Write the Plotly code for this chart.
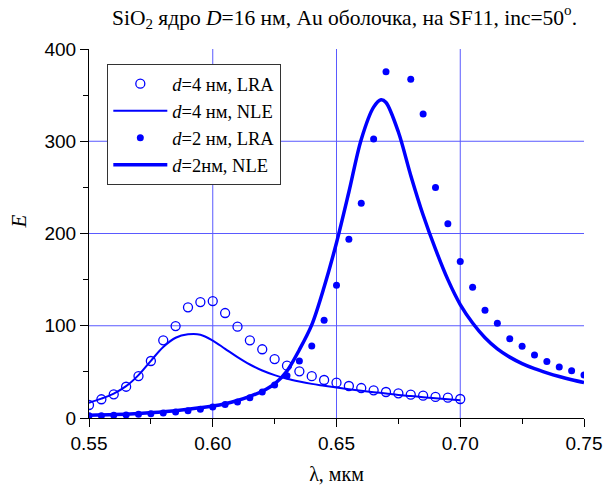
import plotly.graph_objects as go

# --- d=4 nm, LRA (open circles) ---
x_lra4 = [0.550, 0.555, 0.560, 0.565, 0.570, 0.575, 0.580, 0.585, 0.590, 0.595,
          0.600, 0.605, 0.610, 0.615, 0.620, 0.625, 0.630, 0.635, 0.640, 0.645,
          0.650, 0.655, 0.660, 0.665, 0.670, 0.675, 0.680, 0.685, 0.690, 0.695, 0.700]
e_lra4 = [14.1, 20.3, 25.7, 33.9, 45.5, 61.8, 84.2, 99.7, 120.0, 125.7,
          126.8, 113.8, 99.0, 84.2, 74.5, 63.9, 56.7, 50.6, 45.3, 41.2,
          38.3, 34.7, 32.5, 30.0, 28.2, 26.8, 25.3, 24.2, 22.8, 22.0, 20.6]

# --- d=4 nm, NLE (thin line) ---
x_nle4 = [0.550, 0.555, 0.560, 0.565, 0.570, 0.575, 0.580, 0.585, 0.590, 0.595,
          0.600, 0.605, 0.610, 0.615, 0.620, 0.625, 0.630, 0.635, 0.640, 0.645,
          0.650, 0.655, 0.660, 0.665, 0.670, 0.675, 0.680, 0.685, 0.690, 0.695, 0.700]
e_nle4 = [16.6, 21.0, 26.5, 34.5, 46.5, 62.0, 77.0, 87.0, 90.7, 90.3,
          84.0, 75.0, 66.0, 58.0, 51.5, 46.5, 42.5, 39.5, 37.0, 35.0,
          33.0, 31.2, 29.5, 28.0, 26.5, 25.0, 23.8, 22.6, 21.4, 20.3, 19.2]

# --- d=2 nm, LRA (filled dots) ---
x_lra2 = [0.550, 0.555, 0.560, 0.565, 0.570, 0.575, 0.580, 0.585, 0.590, 0.595,
          0.600, 0.605, 0.610, 0.615, 0.620, 0.625, 0.630, 0.635, 0.640, 0.645,
          0.650, 0.655, 0.660, 0.665, 0.670, 0.680, 0.685, 0.690, 0.695, 0.700,
          0.705, 0.710, 0.715, 0.720, 0.725, 0.730, 0.735, 0.740, 0.745, 0.750]
e_lra2 = [2.5, 2.5, 3.0, 3.3, 4.0, 4.7, 5.4, 6.5, 7.9, 9.4,
          11.9, 14.5, 17.3, 22.0, 28.2, 35.8, 45.9, 61.8, 78.0, 105.9,
          143.8, 193.7, 232.7, 302.4, 375.4, 367.3, 329.5, 249.8, 210.7, 169.6,
          141.7, 116.8, 102.8, 85.8, 77.7, 68.3, 61.2, 55.3, 51.3, 46.6]

# --- d=2 nm, NLE (thick line) ---
x_nle2 = [0.550, 0.560, 0.570, 0.580, 0.590, 0.600, 0.605, 0.610, 0.615, 0.620,
          0.625, 0.630, 0.635, 0.640, 0.645, 0.650, 0.655, 0.660, 0.665, 0.668,
          0.670, 0.675, 0.680, 0.685, 0.690, 0.695, 0.700, 0.705, 0.710, 0.715,
          0.720, 0.725, 0.730, 0.735, 0.740, 0.745, 0.750]
e_nle2 = [3.0, 3.7, 5.0, 6.8, 9.5, 13.0, 15.5, 19.0, 23.5, 29.0,
          37.0, 51.0, 74.0, 101.0, 142.0, 190.0, 245.0, 302.0, 337.0, 345.0,
          342.0, 310.0, 263.0, 220.0, 183.0, 150.0, 123.0, 103.0, 87.0, 75.0,
          66.0, 59.0, 53.5, 49.0, 45.0, 41.5, 38.5]

names = ["<i>d</i>=4 нм, LRA", "<i>d</i>=4 нм, NLE", "<i>d</i>=2 нм, LRA", "<i>d</i>=2нм, NLE"]

x_ticks = [0.55, 0.60, 0.65, 0.70, 0.75]
x_tick_labels = ["0.55", "0.60", "0.65", "0.70", "0.75"]
y_ticks = [0, 100, 200, 300, 400]
x_grid = [0.60, 0.65, 0.70]
y_grid = [100, 200, 300]

BLUE = "#0000FF"
GRID = "rgb(90,90,255)"

fig = go.Figure()
fig.add_trace(go.Scatter(x=x_lra4, y=e_lra4, mode="markers", name=names[0],
                         marker=dict(symbol="circle-open", size=9, color=BLUE, line=dict(width=1.3, color=BLUE))))
fig.add_trace(go.Scatter(x=x_nle4, y=e_nle4, mode="lines", name=names[1],
                         line=dict(color=BLUE, width=2, shape="spline", smoothing=1.0)))
fig.add_trace(go.Scatter(x=x_lra2, y=e_lra2, mode="markers", name=names[2],
                         marker=dict(symbol="circle", size=7, color=BLUE)))
fig.add_trace(go.Scatter(x=x_nle2, y=e_nle2, mode="lines", name=names[3],
                         line=dict(color=BLUE, width=3.5, shape="spline", smoothing=0.9)))

shapes = []
for gx in x_grid:
    shapes.append(dict(type="line", xref="x", yref="paper", x0=gx, x1=gx, y0=0, y1=1,
                       line=dict(color=GRID, width=1), layer="below"))
for gy in y_grid:
    shapes.append(dict(type="line", xref="paper", yref="y", x0=0, x1=1, y0=gy, y1=gy,
                       line=dict(color=GRID, width=1), layer="below"))

fig.update_layout(
    width=604, height=485,
    margin=dict(l=89, r=20, t=49, b=67, autoexpand=False),
    paper_bgcolor="white", plot_bgcolor="white",
    showlegend=True,
    shapes=shapes,
    title=dict(text="SiO<sub>2</sub> ядро <i>D</i>=16 нм, Au оболочка, на SF11, inc=50<sup>o</sup>.",
               x=344.5 / 604, xanchor="center", xref="container",
               y=1 - 17 / 485, yanchor="middle", yref="container",
               font=dict(family="Liberation Serif", size=21.5, color="black")),
    legend=dict(x=0.037, y=0.959, xanchor="left", yanchor="top",
                bgcolor="white", bordercolor="#333333", borderwidth=1,
                font=dict(family="Liberation Serif", size=18.5, color="black"),
                tracegroupgap=0, itemwidth=54),
    annotations=[dict(text="<i>E</i>", xref="paper", yref="paper",
                      x=(18.5 - 89) / 495, y=(418 - 222) / 369, xanchor="center", yanchor="middle",
                      textangle=-90, showarrow=False,
                      font=dict(family="Liberation Serif", size=21, color="black"))],
    xaxis=dict(range=[0.55, 0.75], tickvals=x_ticks, ticktext=x_tick_labels, automargin=False,
               showgrid=False, zeroline=False, showline=True, linecolor="black", linewidth=1,
               ticks="outside", ticklen=8, tickwidth=1, tickcolor="black",
               minor=dict(dtick=0.025, tick0=0.55, ticks="outside", ticklen=5, tickcolor="black", showgrid=False),
               tickfont=dict(family="Liberation Sans", size=19, color="black"),
               title=dict(text="λ, мкм", font=dict(family="Liberation Serif", size=20, color="black"), standoff=18)),
    yaxis=dict(range=[0, 400], tickvals=y_ticks, automargin=False,
               showgrid=False, zeroline=False, showline=True, linecolor="black", linewidth=1,
               ticks="outside", ticklen=8, tickwidth=1, tickcolor="black",
               minor=dict(dtick=50, tick0=0, ticks="outside", ticklen=5, tickcolor="black", showgrid=False),
               tickfont=dict(family="Liberation Sans", size=19, color="black")),
)

fig.write_html("out.html", config={"displayModeBar": False},
               post_script="document.body.style.margin='0';document.body.style.padding='0';")
